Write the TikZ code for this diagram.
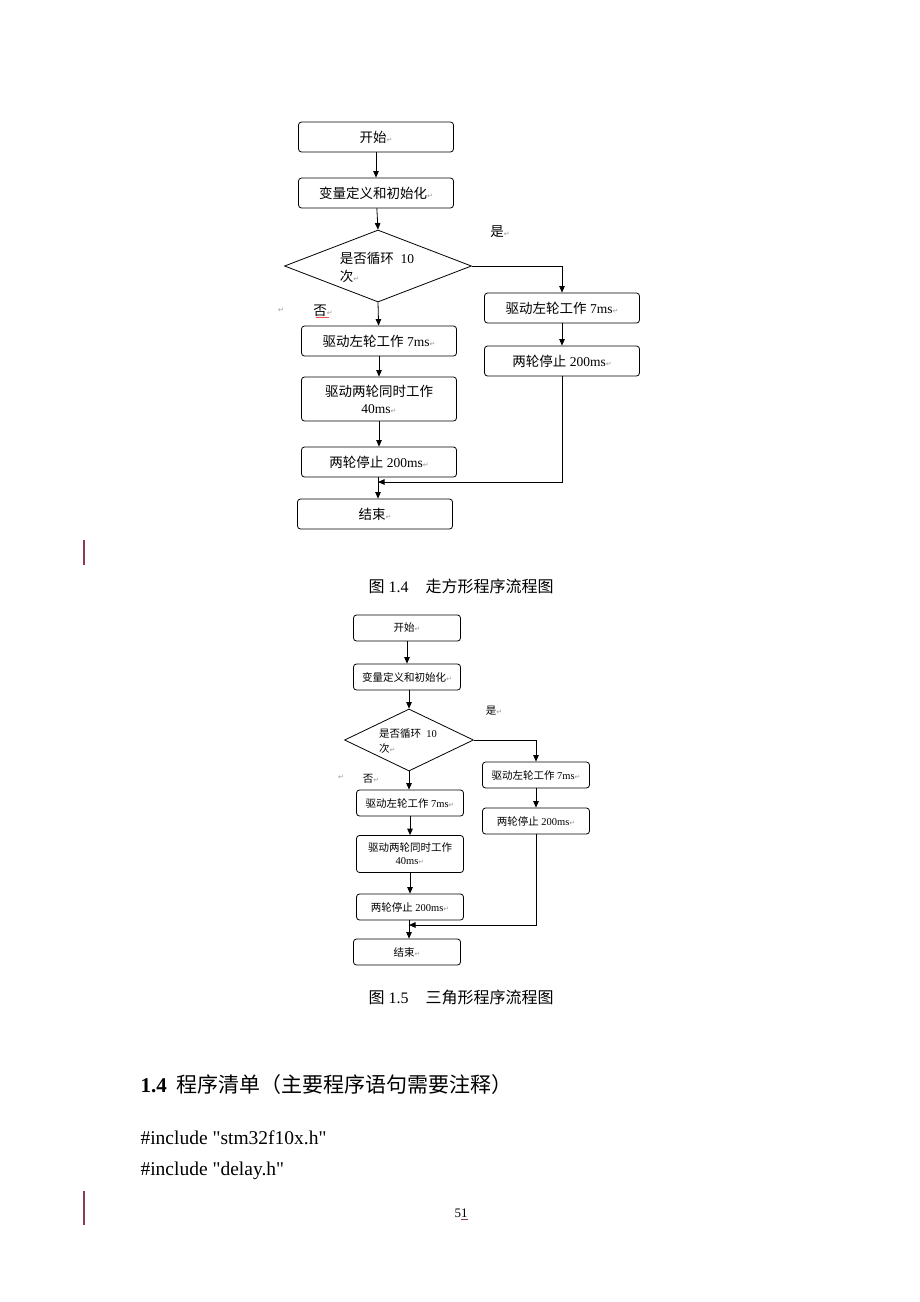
\documentclass[tikz,border=0pt]{standalone}
\usepackage{fontspec}
\setmainfont{Liberation Serif}
\newfontfamily\cjk{Noto Sans CJK SC}
\newfontfamily\symb{DejaVu Sans}
\usetikzlibrary{arrows.meta}
\usetikzlibrary{shapes.geometric}
\definecolor{marge}{HTML}{8E3A55}
\newcommand{\retour}{{\color{gray!80}\symb\fontsize{7}{7}\selectfont ↵}}

\tikzset{
    boite/.style={draw, rounded corners=3pt, line width=0.8pt, inner sep=0pt,
        minimum width=155pt, minimum height=30pt, align=center,
        font=\fontsize{13.5}{17}\selectfont},
    petite/.style={boite, minimum width=107pt, minimum height=26pt,
        font=\fontsize{10.5}{13}\selectfont},
    fleche/.style={line width=0.8pt, -{Triangle[length=6.5pt,width=5.5pt]}},
}

\begin{document}
\begin{tikzpicture}[x=1pt,y=-1pt]
    \useasboundingbox[fill=white] (0,0) rectangle (920,1302);

    % premier organigramme
    \node[boite] (debut) at (376,137) {{\cjk 开始}\retour};
    \node[boite] (init) at (376,193) {{\cjk 变量定义和初始化}\retour};
    \node[diamond, draw, line width=0.8pt, minimum width=187pt, minimum height=72pt,
        inner sep=0pt, aspect=2.6] (boucle) at (378,266) {};
    \node[align=left, font=\fontsize{13.5}{18}\selectfont] (qboucle) at (377,267)
        {{\cjk 是否循环}\ \ 10\\{\cjk 次}\retour\hspace{64pt}};
    \node[font=\fontsize{13.5}{15}\selectfont] (oui) at (500,232) {{\cjk 是}\retour};
    \node[font=\fontsize{13.5}{15}\selectfont] (non) at (323,311) {{\cjk 否}\retour};
    \node (vide) at (281,310) {\retour};
    \draw[red!70, line width=0.5pt] ([xshift=-7pt,yshift=3pt]non.south) -- ([xshift=6pt,yshift=3pt]non.south);

    \node[boite] (gauche) at (379,341) {{\cjk 驱动左轮工作} 7ms\retour};
    \node[boite, minimum height=44pt] (deux) at (379,399) {{\cjk 驱动两轮同时工作}\\40ms\retour};
    \node[boite] (arret) at (379,462) {{\cjk 两轮停止} 200ms\retour};
    \node[boite] (fin) at (375,514) {{\cjk 结束}\retour};

    \node[boite] (droite) at (562,308) {{\cjk 驱动左轮工作} 7ms\retour};
    \node[boite] (arretd) at (562,361) {{\cjk 两轮停止} 200ms\retour};
    \coordinate (jonction) at (378,482);

    \draw[fleche] (debut) -- (init);
    \draw[fleche] (init) -- (boucle.north);
    \draw[fleche] (boucle.south) -- (gauche);
    \draw[fleche] (boucle.east) -| (droite.north);
    \draw[fleche] (gauche) -- (deux);
    \draw[fleche] (deux) -- (arret);
    \draw[fleche] (droite) -- (arretd);
    \draw[fleche] (arret.south -| jonction) -- (fin.north -| jonction);
    \draw[fleche] (arretd.south) |- (jonction);

    \node[font=\fontsize{16}{18}\selectfont] (leg1) at (461,586) {{\cjk 图} 1.4\hspace{17pt}{\cjk 走方形程序流程图}};

    % second organigramme
    \node[petite] (debut2) at (407,628) {{\cjk 开始}\retour};
    \node[petite] (init2) at (407,677) {{\cjk 变量定义和初始化}\retour};
    \node[diamond, draw, line width=0.8pt, minimum width=129pt, minimum height=62pt,
        inner sep=0pt, aspect=2.1] (boucle2) at (409,740) {};
    \node[align=left, font=\fontsize{10.5}{15}\selectfont] (qboucle2) at (408,741)
        {{\cjk 是否循环}\ \ 10\\{\cjk 次}\retour\hspace{50pt}};
    \node[font=\fontsize{10.5}{12}\selectfont] (oui2) at (494,711) {{\cjk 是}\retour};
    \node[font=\fontsize{10.5}{12}\selectfont] (non2) at (371,779) {{\cjk 否}\retour};
    \node (vide2) at (341,777) {\retour};

    \node[petite] (gauche2) at (410,803) {{\cjk 驱动左轮工作} 7ms\retour};
    \node[petite, minimum height=37pt] (deux2) at (410,854) {{\cjk 驱动两轮同时工作}\\40ms\retour};
    \node[petite] (arret2) at (410,907) {{\cjk 两轮停止} 200ms\retour};
    \node[petite] (fin2) at (407,952) {{\cjk 结束}\retour};

    \node[petite] (droite2) at (536,775) {{\cjk 驱动左轮工作} 7ms\retour};
    \node[petite] (arretd2) at (536,821) {{\cjk 两轮停止} 200ms\retour};
    \coordinate (jonction2) at (409,925);

    \draw[fleche] (debut2) -- (init2);
    \draw[fleche] (init2.south -| boucle2) -- (boucle2.north);
    \draw[fleche] (boucle2.south) -- (gauche2.north -| boucle2);
    \draw[fleche] (boucle2.east) -| (droite2.north);
    \draw[fleche] (gauche2) -- (deux2);
    \draw[fleche] (deux2) -- (arret2);
    \draw[fleche] (droite2) -- (arretd2);
    \draw[fleche] (arret2.south -| jonction2) -- (fin2.north -| jonction2);
    \draw[fleche] (arretd2.south) |- (jonction2);

    \node[font=\fontsize{16}{18}\selectfont] (leg2) at (461,997) {{\cjk 图} 1.5\hspace{17pt}{\cjk 三角形程序流程图}};

    % texte de la page
    \node[anchor=west, font=\fontsize{21}{24}\selectfont] (titre) at (137,1085)
        {\textbf{1.4}\hspace{10pt}{\cjk 程序清单（主要程序语句需要注释）}};
    \node[anchor=west, font=\fontsize{19.5}{22}\selectfont] (inc1) at (137,1138) {\#include \textquotedbl stm32f10x.h\textquotedbl};
    \node[anchor=west, font=\fontsize{19.5}{22}\selectfont] (inc2) at (137,1171) {\#include \textquotedbl delay.h\textquotedbl};
    \node[font=\fontsize{13}{15}\selectfont] (page) at (461,1214) {5\textcolor{marge}{\underline{\textcolor{black}{1}}}};

    \draw[marge, line width=1.5pt] (84,540) -- (84,565);
    \draw[marge, line width=1.5pt] (84,1191) -- (84,1225);
\end{tikzpicture}
\end{document}
